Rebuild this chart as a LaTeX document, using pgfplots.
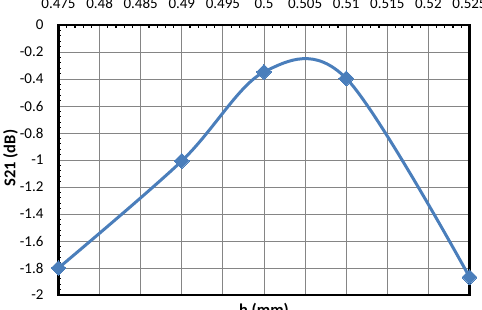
\documentclass[border=0pt]{standalone}
\usepackage{pgfplots}
\pgfplotsset{compat=1.18}
\usepackage{fontspec}
\setmainfont{Carlito}
\begin{document}
\begin{tikzpicture}[x=1pt,y=1pt]
\useasboundingbox (0,0) rectangle (482,310);
\begin{axis}[
  at={(58.5pt,15pt)}, anchor=south west,
  scale only axis, width=411pt, height=270pt,
  xmin=0.475, xmax=0.525, ymin=-2, ymax=0,
  /pgf/number format/assume math mode=true,
  xtick={0.475,0.48,0.485,0.49,0.495,0.5,0.505,0.51,0.515,0.52,0.525},
  xticklabels={0.475,0.48,0.485,0.49,0.495,0.5,0.505,0.51,0.515,0.52,0.525},
  ytick={-2,-1.8,-1.6,-1.4,-1.2,-1,-0.8,-0.6,-0.4,-0.2,0},
  yticklabels={-2,-1.8,-1.6,-1.4,-1.2,-1,-0.8,-0.6,-0.4,-0.2,0},
  xtick pos=right, ytick pos=left,
  xticklabel pos=right, yticklabel pos=left,
  minor x tick num=4, minor y tick num=4,
  tick align=inside, major tick length=0pt, minor tick length=3pt,
  tick style={black, line width=1.2pt},
  grid=major, major grid style={draw=black!48, line width=0.9pt},
  axis line style={black, line width=2.5pt},
  tick label style={font=\fontsize{15}{17}\selectfont},
  xticklabel style={yshift=13pt},
  yticklabel style={xshift=-11.5pt},
  xlabel={\textbf{h (mm)}},
  xlabel style={at={(axis description cs:0.5,0)}, anchor=north, yshift=-5pt, font=\fontsize{16.5}{18}\selectfont},
  ylabel={\textbf{S21 (dB)}},
  ylabel style={at={(axis description cs:-0.1165,0.507)}, anchor=center, font=\fontsize{16.5}{18}\selectfont},
  clip=false,
]
\addplot[color={rgb,255:red,74;green,126;blue,187}, line width=3pt, smooth, tension=0.55,
  mark=square*, mark size=5.3pt, mark options={solid, line width=0pt, rotate=45}]
  coordinates {(0.475,-1.80) (0.49,-1.007) (0.5,-0.348) (0.51,-0.395) (0.525,-1.867)};
\end{axis}
\end{tikzpicture}
\end{document}
